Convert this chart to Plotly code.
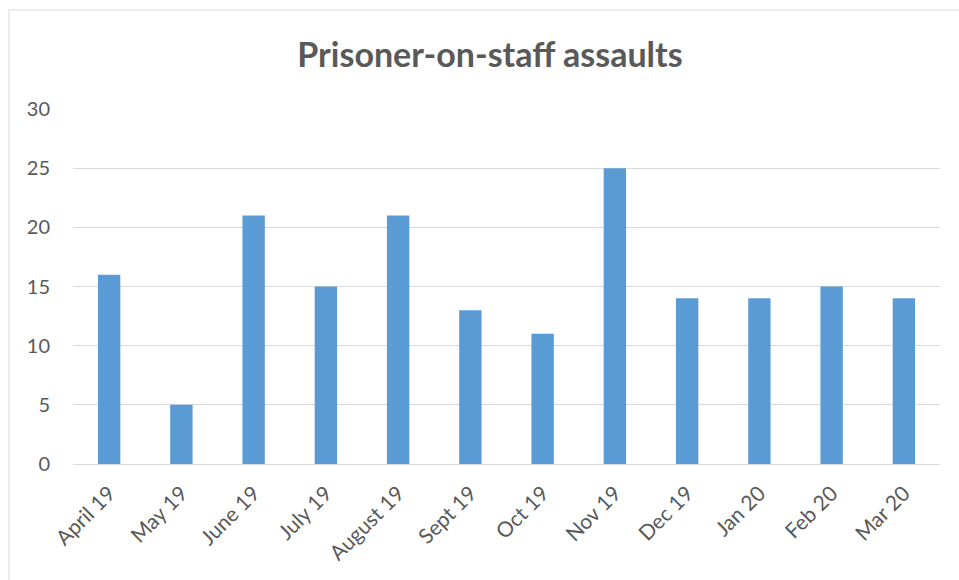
import plotly.graph_objects as go

months = ["April 19", "May 19", "June 19", "July 19", "August 19", "Sept 19",
          "Oct 19", "Nov 19", "Dec 19", "Jan 20", "Feb 20", "Mar 20"]
assaults = [16, 5, 21, 15, 21, 13, 11, 25, 14, 14, 15, 14]
y_ticks = [0, 5, 10, 15, 20, 25, 30]

W, H = 959, 580
L, R, T, B = 73, 19, 109, 116
pw, ph = W - L - R, H - T - B

fig = go.Figure(go.Bar(x=months, y=assaults, marker_color="#5B9BD5",
                       marker_line_width=0, hoverinfo="x+y"))

font = "Lato, 'Open Sans', sans-serif"
fig.update_layout(
    width=W, height=H,
    margin=dict(l=L, r=R, t=T, b=B, pad=0),
    paper_bgcolor="white", plot_bgcolor="white",
    bargap=0.69,
    showlegend=False,
    title=dict(text="<b>Prisoner-on-staff assaults</b>", x=490 / W,
               xanchor="center", y=1 - 55 / H, yanchor="middle",
               font=dict(family=font, size=34, color="#595959")),
    font=dict(family=font, color="#595959", size=20),
    xaxis=dict(tickangle=-45, showgrid=False, showline=False, ticks="",
               ticklabelstandoff=12,
               tickfont=dict(size=21, color="#595959"), automargin=False),
    yaxis=dict(range=[0, 30], tickvals=y_ticks, showgrid=True, gridcolor="#D9D9D9",
               gridwidth=1, zeroline=True, zerolinecolor="#D9D9D9", zerolinewidth=1,
               ticks="", ticklabelstandoff=22, tickfont=dict(size=20, color="#595959"),
               automargin=False),
    shapes=[dict(type="rect", xref="paper", yref="paper",
                 x0=(9 - L) / pw, x1=(W + 5 - L) / pw,
                 y0=-(H + 5 - T - ph) / ph, y1=1 + (T - 10) / ph,
                 line=dict(color="#D9D9D9", width=1), layer="below")],
)

fig.write_html("out.html", config={"displayModeBar": False},
               post_script="document.body.style.margin='0';")
